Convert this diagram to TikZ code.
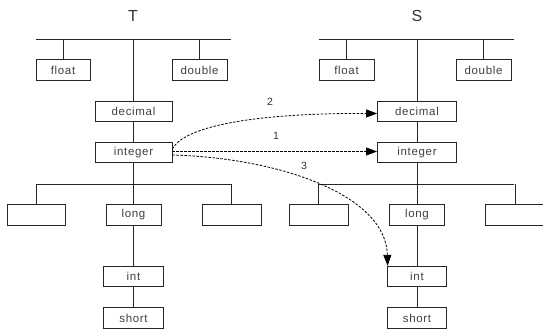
\documentclass[tikz,border=0pt]{standalone}
\usepackage{fontspec}
\setmainfont{Liberation Sans}
\newfontfamily\boxfont[LetterSpace=6]{Liberation Sans}
\usetikzlibrary{arrows.meta}
\begin{document}
\begin{tikzpicture}[x=1pt,y=-1pt,
  line/.style={draw=black!85,line width=0.8pt},
  box/.style={line,fill=white,rectangle,inner sep=0pt,minimum height=20.5pt,font=\boxfont\fontsize{11.5}{12}\selectfont,text=black!75},
  title/.style={font=\fontsize{16}{18}\selectfont,text=black!80},
  link/.style={draw=black,line width=0.8pt,dash pattern=on 2.5pt off 1.5pt,-{Triangle[length=11pt,width=8pt]}},
  lab/.style={font=\fontsize{10.5}{12}\selectfont,text=black!80}]
\useasboundingbox (0,0) rectangle (543,331);
\clip (0,0) rectangle (543,331);
% ---- tree T ----
\node[title] (Ttitle) at (133,16) {T};
\coordinate (Tbl) at (36,39); \coordinate (Tbr) at (231,39);
\node[box,minimum width=54pt] (Tfloat) at (63,70) {float};
\node[box,minimum width=55pt] (Tdouble) at (199.5,70) {double};
\node[box,minimum width=77pt] (Tdecimal) at (133.5,111.5) {decimal};
\node[box,minimum width=77pt] (Tinteger) at (133.5,152.5) {integer};
\coordinate (Tml) at (36,184); \coordinate (Tmr) at (231,184);
\coordinate (Tbc) at (Tdecimal.north |- Tbl); \coordinate (Tmc) at (Tdecimal.north |- Tml);
\node[box,minimum width=58pt] (Tleft) at (36,215) {};
\node[box,minimum width=55pt] (Tlong) at (133.5,215) {long};
\node[box,minimum width=59pt] (Tright) at (231.5,215) {};
\node[box,minimum width=60pt] (Tint) at (133.5,276.5) {int};
\node[box,minimum width=60pt] (Tshort) at (133.5,318) {short};
\draw[line] (Tbl) -- (Tbr);
\draw[line] (Tfloat.north) -- (Tfloat.north |- Tbl);
\draw[line] (Tdouble.north) -- (Tdouble.north |- Tbl);
\draw[line] (Tbc) -- (Tdecimal.north);
\draw[line] (Tdecimal) -- (Tinteger);
\draw[line] (Tinteger.south) -- (Tmc);
\draw[line] (Tml) -- (Tmr);
\draw[line] (Tleft.north) -- (Tleft.north |- Tml);
\draw[line] (Tright.north) -- (Tright.north |- Tml);
\draw[line] (Tmc) -- (Tlong.north);
\draw[line] (Tlong) -- (Tint);
\draw[line] (Tint) -- (Tshort);
% ---- tree S ----
\node[title] (Stitle) at (417,16) {S};
\coordinate (Sbl) at (319,39); \coordinate (Sbr) at (514,39);
\node[box,minimum width=55pt] (Sfloat) at (346.5,70) {float};
\node[box,minimum width=55pt] (Sdouble) at (483.5,70) {double};
\node[box,minimum width=79pt] (Sdecimal) at (417,111.5) {decimal};
\node[box,minimum width=79pt] (Sinteger) at (417,152.5) {integer};
\coordinate (Sml) at (319,184); \coordinate (Smr) at (514,184);
\coordinate (Sbc) at (Sdecimal.north |- Sbl); \coordinate (Smc) at (Sdecimal.north |- Sml);
\node[box,minimum width=59pt] (Sleft) at (318.5,215) {};
\node[box,minimum width=55pt] (Slong) at (417,215) {long};
\node[box,minimum width=59pt] (Sright) at (515,215) {};
\node[box,minimum width=59pt] (Sint) at (417,276.5) {int};
\node[box,minimum width=59pt] (Sshort) at (417,318) {short};
\draw[line] (Sbl) -- (Sbr);
\draw[line] (Sfloat.north) -- (Sfloat.north |- Sbl);
\draw[line] (Sdouble.north) -- (Sdouble.north |- Sbl);
\draw[line] (Sbc) -- (Sdecimal.north);
\draw[line] (Sdecimal) -- (Sinteger);
\draw[line] (Sinteger.south) -- (Smc);
\draw[line] (Sml) -- (Smr);
\draw[line] (Sleft.north) -- (Sleft.north |- Sml);
\draw[line] (Sright.north) -- (Sright.north |- Sml);
\draw[line] (Smc) -- (Slong.north);
\draw[line] (Slong) -- (Sint);
\draw[line] (Sint) -- (Sshort);
% ---- links ----
\draw[link] ([yshift=3.5pt]Tinteger.east) .. controls (185,125) and (260,113) .. ([yshift=-2pt]Sdecimal.west);
\draw[link] ([yshift=1pt]Tinteger.east) -- ([yshift=1pt]Sinteger.west);
\draw[link] ([yshift=-2.5pt]Tinteger.east) .. controls (280,158) and (386,195) .. ([xshift=0.5pt]Sint.north west);
\node[lab] (lab2) at (270,102) {2};
\node[lab] (lab1) at (276,136) {1};
\node[lab] (lab3) at (304,166) {3};
\end{tikzpicture}
\end{document}
